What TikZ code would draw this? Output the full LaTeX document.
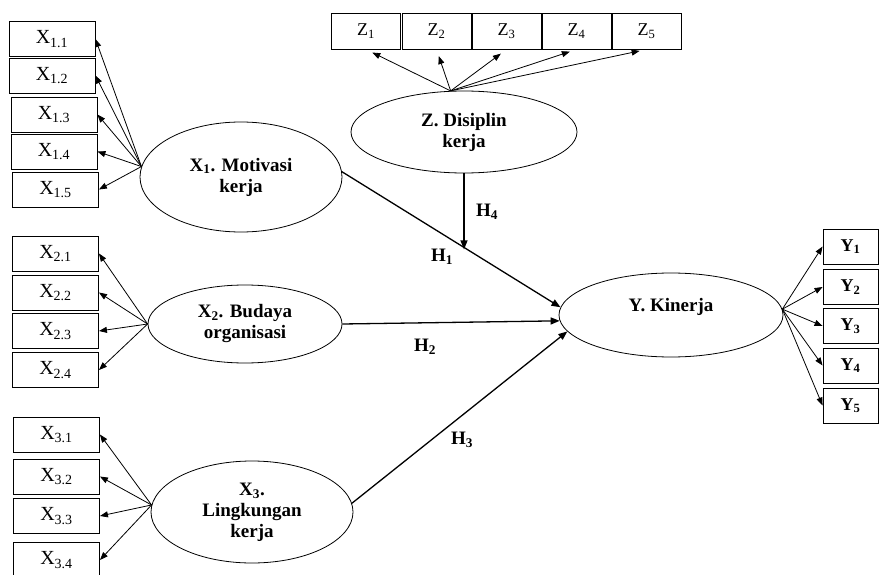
\documentclass[tikz,border=0pt]{standalone}
\usepackage{fontspec}
\setmainfont{Liberation Serif}
\usetikzlibrary{arrows.meta, shapes.geometric, calc}

\begin{document}
\begin{tikzpicture}[x=1pt, y=-1pt,
    ind/.style={draw, line width=0.9pt, minimum width=86pt, minimum height=35pt, inner sep=0pt,
      font=\fontsize{20}{20}\selectfont},
    lat/.style={draw, ellipse, line width=0.8pt, inner sep=0pt, align=center,
      font=\fontsize{19}{21}\selectfont\bfseries},
    loading/.style={-{Triangle[length=8pt, width=6pt]}, line width=0.8pt},
    effect/.style={-{Triangle[length=9pt, width=7pt]}, line width=1.3pt},
    hyp/.style={font=\fontsize{19}{19}\selectfont\bfseries}]
  \useasboundingbox (0,0) rectangle (880,575);

  % latent variables
  \node[lat, minimum width=202pt, minimum height=110pt] (motivasi) at (241,177) {X\textsubscript{1}. Motivasi\\kerja};
  \node[lat, minimum width=194pt, minimum height=78pt] (budaya) at (245,324) {X\textsubscript{2}. Budaya\\organisasi};
  \node[lat, minimum width=202pt, minimum height=102pt] (lingkungan) at (252,512) {X\textsubscript{3}.\\Lingkungan\\kerja};
  \node[lat, minimum width=226pt, minimum height=82pt] (disiplin) at (464,132) {Z. Disiplin\\kerja};
  \node[lat, minimum width=224pt, minimum height=84pt] (kinerja) at (671,315) {Y. Kinerja\\~};

  % indicators X1
  \node[ind] (x11) at (52,39) {X\textsubscript{1.1}};
  \node[ind] (x12) at (52,75.5) {X\textsubscript{1.2}};
  \node[ind] (x13) at (54,114.5) {X\textsubscript{1.3}};
  \node[ind] (x14) at (54,151.5) {X\textsubscript{1.4}};
  \node[ind] (x15) at (55.5,189.5) {X\textsubscript{1.5}};
  % indicators X2
  \node[ind] (x21) at (55.5,253.5) {X\textsubscript{2.1}};
  \node[ind] (x22) at (55.5,292.5) {X\textsubscript{2.2}};
  \node[ind] (x23) at (55.5,331) {X\textsubscript{2.3}};
  \node[ind] (x24) at (55.5,370) {X\textsubscript{2.4}};
  % indicators X3
  \node[ind] (x31) at (56.5,434.5) {X\textsubscript{3.1}};
  \node[ind] (x32) at (56.5,476.5) {X\textsubscript{3.2}};
  \node[ind] (x33) at (56.5,516) {X\textsubscript{3.3}};
  \node[ind] (x34) at (56.5,560) {X\textsubscript{3.4}};
  % indicators Z
  \node[ind, minimum width=69pt, minimum height=36pt, font=\fontsize{18}{18}\selectfont] (z1) at (366,31) {Z\textsubscript{1}};
  \node[ind, minimum width=69pt, minimum height=36pt, font=\fontsize{18}{18}\selectfont] (z2) at (436.5,31) {Z\textsubscript{2}};
  \node[ind, minimum width=69pt, minimum height=36pt, font=\fontsize{18}{18}\selectfont] (z3) at (506.5,31) {Z\textsubscript{3}};
  \node[ind, minimum width=69pt, minimum height=36pt, font=\fontsize{18}{18}\selectfont] (z4) at (576.5,31) {Z\textsubscript{4}};
  \node[ind, minimum width=69pt, minimum height=36pt, font=\fontsize{18}{18}\selectfont] (z5) at (646.5,31) {Z\textsubscript{5}};
  % indicators Y
  \node[ind, minimum width=55pt, font=\fontsize{18}{18}\selectfont\bfseries] (y1) at (850.5,246.5) {Y\textsubscript{1}};
  \node[ind, minimum width=55pt, font=\fontsize{18}{18}\selectfont\bfseries] (y2) at (850.5,287) {Y\textsubscript{2}};
  \node[ind, minimum width=55pt, font=\fontsize{18}{18}\selectfont\bfseries] (y3) at (850.5,326) {Y\textsubscript{3}};
  \node[ind, minimum width=55pt, font=\fontsize{18}{18}\selectfont\bfseries] (y4) at (850.5,365.5) {Y\textsubscript{4}};
  \node[ind, minimum width=55pt, font=\fontsize{18}{18}\selectfont\bfseries] (y5) at (850.5,405.5) {Y\textsubscript{5}};

  % loadings
  \draw[loading] (motivasi.174) -- (x11.east);
  \draw[loading] (motivasi.174) -- (x12.east);
  \draw[loading] (motivasi.174) -- (x13.east);
  \draw[loading] (motivasi.174) -- (x14.east);
  \draw[loading] (motivasi.174) -- (x15.east);
  \draw[loading] (budaya.west) -- (x21.east);
  \draw[loading] (budaya.west) -- (x22.east);
  \draw[loading] (budaya.west) -- (x23.east);
  \draw[loading] (budaya.west) -- (x24.east);
  \draw[loading] (lingkungan.176) -- (x31.east);
  \draw[loading] (lingkungan.176) -- (x32.east);
  \draw[loading] (lingkungan.176) -- (x33.east);
  \draw[loading] (lingkungan.176) -- (x34.east);
  \draw[loading, shorten >=7pt] (disiplin.108) -- (z1.south);
  \draw[loading, shorten >=7pt] (disiplin.108) -- (z2.south);
  \draw[loading, shorten >=7pt] (disiplin.108) -- (z3.south);
  \draw[loading, shorten >=7pt] (disiplin.108) -- (z4.south);
  \draw[loading, shorten >=7pt] (disiplin.108) -- (z5.south);
  \draw[loading] (kinerja.3) -- (y1.west);
  \draw[loading] (kinerja.3) -- (y2.west);
  \draw[loading] (kinerja.3) -- (y3.west);
  \draw[loading] (kinerja.3) -- (y4.west);
  \draw[loading] (kinerja.3) -- (y5.west);

  % hypotheses
  \draw[effect] (motivasi.3) -- (kinerja.176);
  \draw[effect] (budaya.east) -- (kinerja.183);
  \draw[effect] (lingkungan.5) -- (kinerja.189);
  \coordinate (h1cut) at ($(motivasi.3)!0.573!(kinerja.176)$);
  \draw[effect] (disiplin.south) -- (disiplin.south |- h1cut);

  \node[hyp] (h1) at (442,257) {H\textsubscript{1}};
  \node[hyp] (h2) at (425,347) {H\textsubscript{2}};
  \node[hyp] (h3) at (462,440) {H\textsubscript{3}};
  \node[hyp] (h4) at (487,212) {H\textsubscript{4}};
\end{tikzpicture}
\end{document}
